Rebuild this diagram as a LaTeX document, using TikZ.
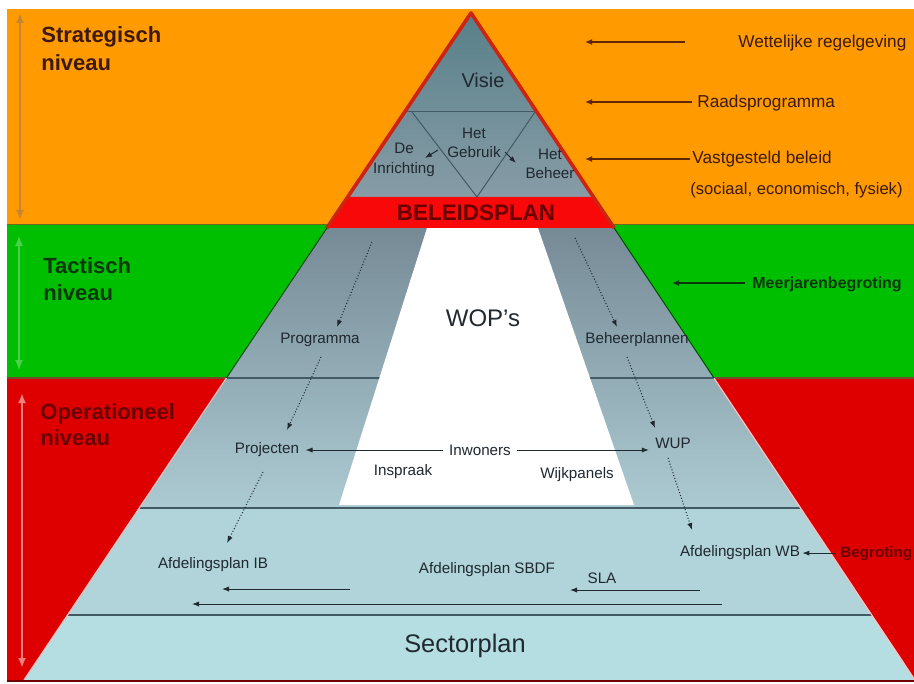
\documentclass[tikz,border=0pt]{standalone}
\usepackage{fontspec}
\setmainfont{Liberation Sans}
\usetikzlibrary{arrows.meta, positioning}

\definecolor{oranjeband}{RGB}{255,155,0}
\definecolor{groenband}{RGB}{0,190,0}
\definecolor{roodband}{RGB}{222,0,0}
\definecolor{beleidrood}{RGB}{248,8,8}
\definecolor{randrood}{RGB}{205,35,15}
\definecolor{bruintekst}{RGB}{60,25,15}
\definecolor{bruinpijl}{RGB}{95,40,5}
\definecolor{groentekst}{RGB}{10,55,10}
\definecolor{roodtekst}{RGB}{105,0,0}
\definecolor{grijstekst}{RGB}{32,40,48}
\definecolor{sectielijn}{RGB}{65,90,100}
\definecolor{lichtblauw}{RGB}{176,212,217}
\definecolor{basisblauw}{RGB}{180,222,226}

\tikzset{
    niveaunode/.style = {draw=none, anchor=base west, inner sep=0pt, font=\fontsize{11}{14}\selectfont\bfseries},
    labelnode/.style = {draw=none, inner sep=3pt, align=center, text=grijstekst,
      font=\fontsize{7.6}{9.8}\selectfont},
    bronnode/.style = {draw=none, anchor=base west, inner sep=0pt, text=bruintekst,
      font=\fontsize{8.6}{10}\selectfont},
    flow/.style = {grijstekst, line width=0.5pt, -{Latex[length=3.5pt,width=2.6pt]}},
    dotflow/.style = {flow, densely dotted},
    bronpijl/.style = {bruinpijl, line width=0.8pt, -{Latex[length=3.5pt,width=3pt]}},
    niveaupijl/.style = {line width=1.2pt, {Latex[length=5pt,width=4pt]}-{Latex[length=5pt,width=4pt]}},
    deellijn/.style = {sectielijn, line width=0.7pt}
}

\begin{document}
\begin{tikzpicture}[x=0.5pt, y=-0.5pt]
    \useasboundingbox (0,0) rectangle (914,684);
    \clip (0,0) rectangle (914,684);
    \fill [white] (0,0) rectangle (914,684);

    % niveau banden
    \fill [oranjeband] (7,9) rectangle (914,224);
    \fill [groenband] (7,224) rectangle (914,378);
    \fill [roodband] (7,378) rectangle (914,681);
    \draw [olive!70!black, line width=0.4pt] (7,224) -- (914,224);
    \draw [brown!60!black, line width=0.8pt] (7,378) -- (914,378);

    % piramide
    \shade [top color={rgb,255:red,88;green,128;blue,138}, middle color={rgb,255:red,188;green,214;blue,220},
        bottom color={rgb,255:red,135;green,156;blue,166}] (471,13) -- (347.7,197) -- (593.5,197) -- cycle;
    \fill [beleidrood] (347.7,197) -- (593.5,197) -- (614.1,228) -- (326.9,228) -- cycle;
    \shade [top color={rgb,255:red,118;green,138;blue,150}, bottom color={rgb,255:red,172;green,202;blue,210}]
        (326.9,228) -- (614.1,228) -- (800.5,508) -- (139.3,508) -- cycle;
    \fill [lichtblauw] (139.3,508) -- (800.5,508) -- (871.8,615) -- (67.5,615) -- cycle;
    \fill [basisblauw] (67.5,615) -- (871.8,615) -- (915,680) -- (24,680) -- cycle;

    \draw [deellijn] (226.4,378) -- (714,378);
    \fill [white] (427,228) -- (538,228) -- (634,505) -- (339,505) -- cycle;
    \draw [deellijn] (139.3,508) -- (800.5,508);
    \draw [deellijn] (67.5,615) -- (871.8,615);

    \draw [sectielijn, line width=0.5pt] (405,112) -- (537,112);
    \draw [sectielijn, line width=0.5pt] (412,112) -- (477,197) -- (535,112);

    \draw [randrood, line width=1.8pt, line join=round] (326.9,228) -- (471,13) -- (614.1,228);
    \draw [black!70!green, line width=0.5pt] (326.9,228) -- (226.4,378);
    \draw [black!70!green, line width=0.5pt] (614.1,228) -- (714,378);
    \draw [red!25!white, line width=0.6pt] (226.4,378) -- (24,680);
    \draw [red!25!white, line width=0.6pt] (714,378) -- (915,680);
    \draw [red!45!black, line width=1pt] (7,680.5) -- (914,680.5);

    % niveaus links
    \coordinate (stratboven) at (20,13);
    \coordinate (stratonder) at (20,220);
    \coordinate (tactboven) at (19,236);
    \coordinate (tactonder) at (19,370);
    \coordinate (operboven) at (22,393);
    \coordinate (operonder) at (22,668);
    \draw [niveaupijl, color={rgb,255:red,198;green,132;blue,52}] (stratboven) -- (stratonder);
    \draw [niveaupijl, color=groenband!70!white, line width=0.6pt] (tactboven) -- (tactonder);
    \draw [niveaupijl, color={rgb,255:red,238;green,128;blue,128}] (operboven) -- (operonder);

    \node [name=strat1, niveaunode, text=bruintekst] at (41,43) {Strategisch};
    \node [name=strat2, niveaunode, text=bruintekst] at (41,71) {niveau};
    \node [name=tact1, niveaunode, text=groentekst] at (43,273) {Tactisch};
    \node [name=tact2, niveaunode, text=groentekst] at (43,300) {niveau};
    \node [name=oper1, niveaunode, text=roodtekst] at (40,419) {Operationeel};
    \node [name=oper2, niveaunode, text=roodtekst] at (40,445) {niveau};

    % bovenste driehoek
    \node [name=visie, labelnode, font=\fontsize{10}{12}\selectfont] at (483,80) {Visie};
    \node [name=gebruik, labelnode] at (474,143) {Het\\Gebruik};
    \node [name=inrichting, labelnode] at (404,160) {De\\Inrichting};
    \node [name=beheer, labelnode] at (550,164) {Het\\Beheer};
    \coordinate (gebruikl) at (438,150);
    \coordinate (inrichtingr) at (425,158);
    \coordinate (gebruikr) at (505,152);
    \coordinate (beheerl) at (516,163);
    \draw [flow] (gebruikl) -- (inrichtingr);
    \draw [flow] (gebruikr) -- (beheerl);
    \node [name=beleidsplan, draw=none, text=roodtekst, font=\fontsize{11.2}{13}\selectfont\bfseries]
        at (476,213) {BELEIDSPLAN};

    % bronnen rechts
    \node [name=wettelijk, bronnode] at (738,48) {Wettelijke regelgeving};
    \node [name=raad, bronnode] at (697,108) {Raadsprogramma};
    \node [name=vastgesteld, bronnode] at (692,164) {Vastgesteld beleid};
    \node [name=sociaal, bronnode, font=\fontsize{8.3}{10}\selectfont] at (690,195) {(sociaal, economisch, fysiek)};
    \node [name=meerjaren, bronnode, text=groentekst, font=\fontsize{8}{10}\selectfont\bfseries]
        at (752,288) {Meerjarenbegroting};
    \node [name=begroting, bronnode, text=roodtekst, font=\fontsize{7.6}{10}\selectfont\bfseries]
        at (840,557) {Begroting};

    \coordinate (wetstart) at (685,42);
    \coordinate (wetend) at (585,42);
    \coordinate (raadstart) at (692,102);
    \coordinate (raadend) at (585,102);
    \coordinate (vaststart) at (690,159);
    \coordinate (vastend) at (585,159);
    \coordinate (meerstart) at (745,283);
    \coordinate (meerend) at (672,283);
    \draw [bronpijl] (wetstart) -- (wetend);
    \draw [bronpijl] (raadstart) -- (raadend);
    \draw [bronpijl] (vaststart) -- (vastend);
    \draw [bronpijl, groentekst] (meerstart) -- (meerend);

    % tactisch en operationeel
    \node [name=wops, labelnode, font=\fontsize{12}{14}\selectfont] at (483,318) {WOP's};
    \node [name=programma, labelnode] at (320,340) {Programma};
    \node [name=beheerplannen, labelnode] at (637,340) {Beheerplannen};
    \node [name=projecten, labelnode] at (267,450) {Projecten};
    \node [name=inwoners, labelnode] at (480,450) {Inwoners};
    \node [name=wup, labelnode] at (673,443) {WUP};
    \node [name=inspraak, labelnode] at (403,472) {Inspraak};
    \node [name=wijkpanels, labelnode] at (577,475) {Wijkpanels};
    \node [name=afdib, labelnode] at (213,565) {Afdelingsplan IB};
    \node [name=afdsbdf, labelnode] at (487,570) {Afdelingsplan SBDF};
    \node [name=afdwb, labelnode] at (740,553) {Afdelingsplan WB};
    \node [name=sla, labelnode] at (602,578) {SLA};
    \node [name=sectorplan, labelnode, font=\fontsize{12.7}{15}\selectfont] at (465,646) {Sectorplan};

    \draw [flow] (inwoners) -- (projecten);
    \draw [flow] (inwoners.east) -- (inwoners.east -| wup.west);
    \draw [flow] ([xshift=-2pt]begroting.west) -- ([xshift=-2pt]begroting.west -| afdwb.east);

    \coordinate (links1) at (372,242);
    \coordinate (links2) at (337,327);
    \coordinate (links3) at (321,357);
    \coordinate (links4) at (287,430);
    \coordinate (links5) at (263,472);
    \coordinate (links6) at (227,543);
    \coordinate (rechts1) at (575,238);
    \coordinate (rechts2) at (617,327);
    \coordinate (rechts3) at (627,357);
    \coordinate (rechts4) at (655,428);
    \coordinate (rechts5) at (668,458);
    \coordinate (rechts6) at (692,530);
    \draw [dotflow] (links1) -- (links2);
    \draw [dotflow] (links3) -- (links4);
    \draw [dotflow] (links5) -- (links6);
    \draw [dotflow] (rechts1) -- (rechts2);
    \draw [dotflow] (rechts3) -- (rechts4);
    \draw [dotflow] (rechts5) -- (rechts6);

    \coordinate (ibstart) at (350,589);
    \coordinate (ibend) at (222,589);
    \coordinate (slastart) at (700,590);
    \coordinate (slaend) at (570,590);
    \coordinate (langstart) at (722,604);
    \coordinate (langend) at (192,604);
    \draw [flow] (ibstart) -- (ibend);
    \draw [flow] (slastart) -- (slaend);
    \draw [flow] (langstart) -- (langend);
\end{tikzpicture}
\end{document}
